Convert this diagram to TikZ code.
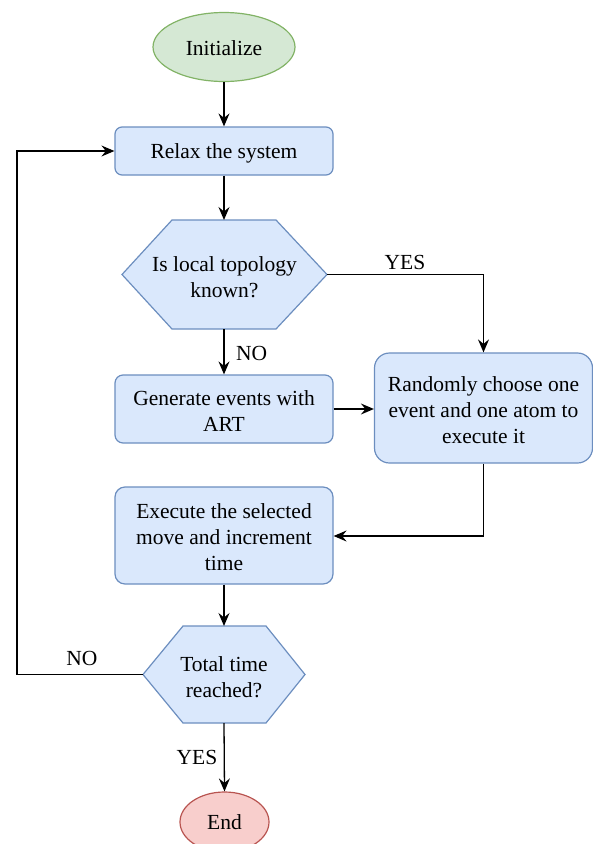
\documentclass[tikz,border=0pt]{standalone}
\usepackage{fontspec}
\setmainfont{Liberation Serif}
\usetikzlibrary{arrows.meta}
\definecolor{bfill}{HTML}{DAE8FC}
\definecolor{bstroke}{HTML}{6C8EBF}
\definecolor{gfill}{HTML}{D5E8D4}
\definecolor{gstroke}{HTML}{82B366}
\definecolor{rfill}{HTML}{F8CECC}
\definecolor{rstroke}{HTML}{B85450}
\tikzset{
  every node/.style={font=\fontsize{21.5}{26}\selectfont, inner sep=0pt, align=center},
  procbox/.style={draw=bstroke, fill=bfill, line width=1.2pt},
  hexbox/.style={draw=bstroke, fill=bfill, line width=1.2pt, line join=miter},
  startell/.style={draw=gstroke, fill=gfill, line width=1.2pt, ellipse},
  endell/.style={draw=rstroke, fill=rfill, line width=1.2pt, ellipse},
  conn/.style={line width=1.3pt, -{Stealth[length=13pt,width=11pt,inset=4.5pt]}},
  lbl/.style={font=\fontsize{21.5}{26}\selectfont}
}
\usetikzlibrary{shapes.geometric}
\begin{document}
\begin{tikzpicture}[x=1pt,y=-1pt]
\useasboundingbox (0,0) rectangle (593,844);
% start
\node[startell, minimum width=142pt, minimum height=69pt] (init) at (224,47) {};
\node (initt) at (224,48) {Initialize};
% relax
\node[procbox, rounded corners=7pt, minimum width=218pt, minimum height=48pt] (relax) at (224,151) {};
\node (relaxt) at (224,153) {Relax the system};
% hexagon 1
\draw[hexbox] (122,274.5) -- (172,220) -- (276,220) -- (327,274.5) -- (276,329) -- (172,329) -- cycle;
\coordinate (h1top) at (224,220);
\coordinate (h1bot) at (224,329);
\coordinate (h1right) at (327,274.5);
\node (q1) at (224.5,277) {Is local topology\\known?};
% generate
\node[procbox, rounded corners=8pt, minimum width=218pt, minimum height=68pt] (gen) at (224,409) {};
\node (gent) at (224,411) {Generate events with\\ART};
% random
\node[procbox, rounded corners=15pt, minimum width=218pt, minimum height=110pt] (rand) at (483.5,408) {};
\node (randt) at (483.5,410) {Randomly choose one\\event and one atom to\\execute it};
% execute
\node[procbox, rounded corners=10pt, minimum width=218pt, minimum height=97pt] (exec) at (224,535.5) {};
\node (exect) at (224,537.5) {Execute the selected\\move and increment\\time};
% hexagon 2
\draw[hexbox] (143,674.5) -- (183,626) -- (266,626) -- (305,674.5) -- (266,723) -- (183,723) -- cycle;
\coordinate (h2top) at (224,626);
\coordinate (h2bot) at (224,723);
\coordinate (h2left) at (143,674.5);
\node (q2) at (224,677) {Total time\\reached?};
% end
\node[endell, minimum width=89pt, minimum height=60pt] (fin) at (224.5,822) {};
\node (fint) at (224.5,822) {End};

% connectors
\draw[conn] (init.south) -- (relax.north);
\draw[conn] (relax.south) -- (h1top);
\draw[conn] (h1bot) -- (gen.north);
\node[lbl, anchor=west] (no1) at (236,353) {NO};
\draw[conn] (h1right) -- (483.5,274.5) -- (rand.north);
\node[lbl] (yes1) at (405,262) {YES};
\draw[conn] (gen.east) -- (gen.east -| rand.west);
\draw[conn] (rand.south) -- (483.5,536) -- (exec.east |- 0,536);
\draw[conn] (exec.south) -- (h2top);
\draw[conn] (h2left) -- (17,674.5) -- (17,151) -- (relax.west);
\node[lbl] (no2) at (82,658) {NO};
\draw[conn] (h2bot) -- (fin.north);
\node[lbl] (yes2) at (197,757) {YES};
\end{tikzpicture}
\end{document}
